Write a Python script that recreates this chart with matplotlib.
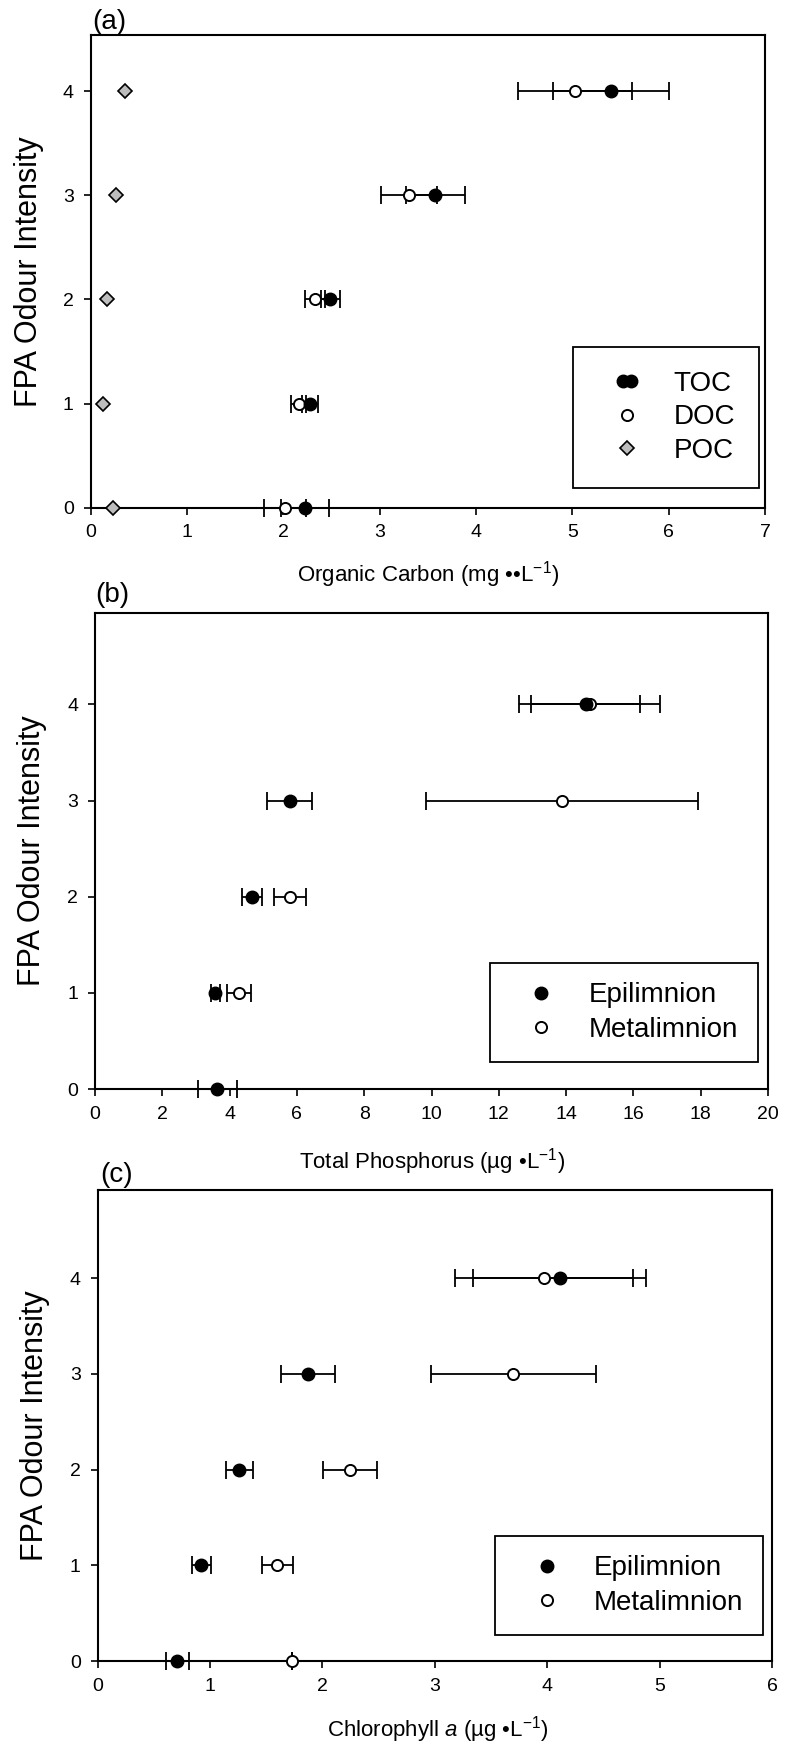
import numpy as np
import matplotlib
matplotlib.use("Agg")
import matplotlib.pyplot as plt
from matplotlib.legend_handler import HandlerLine2D

plt.rcParams['font.family'] = ['Liberation Sans', 'DejaVu Sans']
plt.rcParams['mathtext.fontset'] = 'custom'
plt.rcParams['mathtext.rm'] = 'Liberation Sans'
plt.rcParams['mathtext.it'] = 'Liberation Sans:italic'

# ---- data ----
intensity = [0, 1, 2, 3, 4]

# (a) organic carbon, mg/L
toc = [2.23, 2.28, 2.49, 3.58, 5.40]
toc_err = [0.25, 0.08, 0.10, 0.31, 0.60]
doc = [2.02, 2.16, 2.33, 3.31, 5.03]
doc_err = [0.22, 0.08, 0.10, 0.29, 0.59]
poc = [0.23, 0.13, 0.17, 0.26, 0.36]

# (b) total phosphorus, ug/L
tp_epi = [3.64, 3.58, 4.67, 5.79, 14.58]
tp_epi_err = [0.58, 0.14, 0.30, 0.67, 1.62]
tp_meta = [np.nan, 4.27, 5.79, 13.88, 14.70]
tp_meta_err = [np.nan, 0.36, 0.48, 4.05, 2.10]

# (c) chlorophyll a, ug/L
chl_epi = [0.71, 0.925, 1.26, 1.87, 4.11]
chl_epi_err = [0.10, 0.085, 0.12, 0.24, 0.77]
chl_meta = [1.73, 1.60, 2.25, 3.70, 3.97]
chl_meta_err = [0.0, 0.135, 0.24, 0.73, 0.79]

W, H = 785, 1753
TICK_FONT = ['Liberation Sans Narrow', 'Liberation Sans', 'DejaVu Sans']


def fx(px):
    return px / W


def fy(py):
    return 1 - py / H


def make_axes(fig, left, right, top, bottom, xmax, xstep, ytop):
    ax = fig.add_axes([fx(left), fy(bottom), fx(right - left), (bottom - top) / H])
    ax.set_xlim(0, xmax)
    ax.set_ylim(0, ytop)
    ax.set_xticks(np.arange(0, xmax + 0.01, xstep))
    ax.set_yticks(intensity)
    ax.tick_params(direction='out', length=5, width=1.2, top=False, right=False, pad=7)
    for lab in ax.get_xticklabels() + ax.get_yticklabels():
        lab.set_family(TICK_FONT)
        lab.set_fontsize(14)
    for sp in ax.spines.values():
        sp.set_linewidth(1.5)
    return ax


def errs(x, e, ax):
    ax.errorbar(x, intensity, xerr=e, fmt='none', ecolor='black', elinewidth=1.3,
                capsize=6.5, capthick=1.3, clip_on=False, zorder=3)


def filled(ax, x, label):
    ax.plot(x, intensity, 'o', ms=9, mfc='black', mec='black', ls='none',
            label=label, clip_on=False, zorder=5)


def hollow(ax, x, label):
    ax.plot(x, intensity, 'o', ms=8, mfc='white', mec='black', mew=1.4, ls='none',
            label=label, clip_on=False, zorder=4)


def ylabel(fig, xc, top, bottom):
    fig.text(fx(xc), fy((top + bottom) / 2), 'FPA Odour Intensity', rotation=90,
             ha='center', va='center', fontsize=22)


def frame(leg):
    leg.get_frame().set_edgecolor('black')
    leg.get_frame().set_linewidth(1.3)


fig = plt.figure(figsize=(W / 100, H / 100), dpi=100)

# ---- (a) ----
ax = make_axes(fig, 90.5, 765, 35, 507.6, 7, 1, 4.54)
errs(doc, doc_err, ax)
errs(toc, toc_err, ax)
hollow(ax, doc, 'DOC')
filled(ax, toc, 'TOC')
ax.plot(poc, intensity, 'D', ms=7, mfc='#bdbdbd', mec='black', mew=1.2, ls='none',
        label='POC', clip_on=False, zorder=4)
h, l = ax.get_legend_handles_labels()
order = [l.index('TOC'), l.index('DOC'), l.index('POC')]
toc_handle = h[l.index('TOC')]
leg = ax.legend([h[i] for i in order], [l[i] for i in order], loc='upper left',
                bbox_to_anchor=(fx(573), fy(347)), bbox_transform=fig.transFigure,
                borderaxespad=0, fontsize=20, borderpad=0.85, handlelength=2.2,
                handletextpad=0.58, labelspacing=0.28, fancybox=False, framealpha=1,
                handler_map={toc_handle: HandlerLine2D(numpoints=2, marker_pad=0.95)})
frame(leg)
ylabel(fig, 29, 35, 507.6)
fig.text(fx(92), fy(22), '(a)', ha='left', va='center', fontsize=20)
fig.text(fx(428), fy(575), 'Organic Carbon (mg ••L$^{-1}$)', ha='center', va='center',
         fontsize=16)

# ---- (b) ----
ax = make_axes(fig, 95, 768, 613, 1089, 20, 2, 4.95)
errs(tp_meta, tp_meta_err, ax)
errs(tp_epi, tp_epi_err, ax)
hollow(ax, tp_meta, 'Metalimnion')
filled(ax, tp_epi, 'Epilimnion')
h, l = ax.get_legend_handles_labels()
leg = ax.legend([h[1], h[0]], [l[1], l[0]], loc='upper left',
                bbox_to_anchor=(fx(490), fy(963)), bbox_transform=fig.transFigure,
                borderaxespad=0, fontsize=20, borderpad=0.7, handlelength=2.27,
                handletextpad=0.6, labelspacing=0.3, fancybox=False, framealpha=1)
frame(leg)
ylabel(fig, 32, 613, 1089)
fig.text(fx(95), fy(595), '(b)', ha='left', va='center', fontsize=20)
fig.text(fx(432), fy(1162), 'Total Phosphorus (µg •L$^{-1}$)', ha='center', va='center',
         fontsize=16)

# ---- (c) ----
ax = make_axes(fig, 97.5, 772, 1190, 1661, 6, 1, 4.92)
errs(chl_meta, chl_meta_err, ax)
errs(chl_epi, chl_epi_err, ax)
hollow(ax, chl_meta, 'Metalimnion')
filled(ax, chl_epi, 'Epilimnion')
h, l = ax.get_legend_handles_labels()
leg = ax.legend([h[1], h[0]], [l[1], l[0]], loc='upper left',
                bbox_to_anchor=(fx(495), fy(1536)), bbox_transform=fig.transFigure,
                borderaxespad=0, fontsize=20, borderpad=0.7, handlelength=2.37,
                handletextpad=0.49, labelspacing=0.3, fancybox=False, framealpha=1)
frame(leg)
ylabel(fig, 35, 1190, 1661)
fig.text(fx(100), fy(1175), '(c)', ha='left', va='center', fontsize=20)
fig.text(fx(438), fy(1730), 'Chlorophyll $a$ (µg •L$^{-1}$)', ha='center', va='center',
         fontsize=16)

fig.savefig('out.png', dpi=100)
